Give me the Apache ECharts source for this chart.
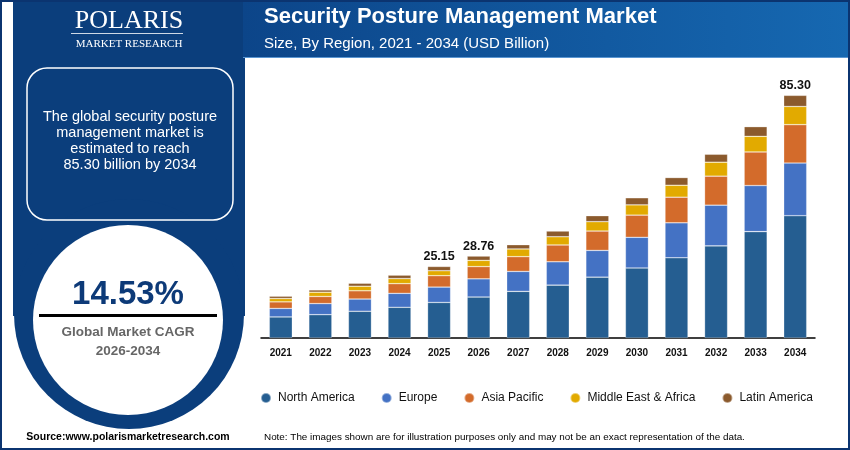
<!DOCTYPE html>
<html lang="en">

<head>
    <meta charset="UTF-8">
    <title>Security Posture Management Market</title>
    <script src="https://cdn.jsdelivr.net/npm/echarts@6/dist/echarts.min.js"></script>
    <style>
        html, body { margin: 0; padding: 0; background: #fff; }
        .chartBox { width: 850px; height: 450px; }
    </style>
</head>

<body>
    <div class="chartBox"></div>
</body>

</html>
<script>
    // data (USD Billion)
    var years = ['2021', '2022', '2023', '2024', '2025', '2026', '2027', '2028', '2029', '2030', '2031', '2032', '2033', '2034'];
    var regions = ['North America', 'Europe', 'Asia Pacific', 'Middle East & Africa', 'Latin America'];
    var northAmerica = [7.4, 8.2, 9.4, 10.8, 12.5, 14.4, 16.4, 18.6, 21.4, 24.6, 28.2, 32.4, 37.4, 43.0];
    var europe = [3.0, 3.9, 4.3, 4.9, 5.4, 6.4, 7.0, 8.2, 9.4, 10.8, 12.3, 14.3, 16.2, 18.5];
    var asiaPacific = [2.3, 2.5, 2.9, 3.4, 4.0, 4.3, 5.2, 5.9, 6.8, 7.8, 9.0, 10.2, 11.8, 13.5];
    var middleEast = [1.2, 1.5, 1.6, 1.8, 1.75, 2.2, 2.7, 2.9, 3.3, 3.6, 4.2, 4.9, 5.5, 6.4];
    var latinAmerica = [0.8, 0.8, 1.05, 1.2, 1.5, 1.5, 1.5, 2.0, 2.1, 2.5, 2.7, 2.8, 3.4, 3.9];
    // totals printed above some bars
    var totalLabels = ['', '', '', '', '25.15', '28.76', '', '', '', '', '', '', '', '85.30'];

    var colors = ['#255e91', '#4472c4', '#d36b2b', '#e2aa00', '#8b5a2d'];
    var seriesData = [northAmerica, europe, asiaPacific, middleEast, latinAmerica];

    var series = [];
    for (var i = 0; i < regions.length; i++) {
        var s = {
            name: regions[i],
            type: 'bar',
            stack: 'total',
            barWidth: 23,
            data: seriesData[i],
            itemStyle: {
                color: colors[i],
                borderColor: 'rgba(255,255,255,0.45)',
                borderWidth: 0.6
            }
        };
        // labels only on the top segment
        if (i == regions.length - 1) {
            s.label = {
                show: true,
                position: 'top',
                distance: 3,
                fontFamily: 'Liberation Sans',
                fontWeight: 'bold',
                fontSize: 12.5,
                color: '#111',
                formatter: function(p) {
                    return totalLabels[p.dataIndex];
                }
            };
        }
        series.push(s);
    }

    var white = '#ffffff';
    var panelBlue = '#0b3e7c';

    var option = {
        backgroundColor: '#fff',
        animation: false,
        grid: { left: 261, right: 35, top: 82, bottom: 112 },
        xAxis: {
            type: 'category',
            data: years,
            axisTick: { show: false },
            axisLine: { lineStyle: { color: '#000', width: 1.5 } },
            axisLabel: {
                margin: 10,
                fontFamily: 'Liberation Sans',
                fontWeight: 'bold',
                fontSize: 10,
                color: '#111'
            }
        },
        yAxis: {
            type: 'value',
            min: 0,
            max: 90,
            show: false
        },
        legend: {
            data: regions,
            left: 260,
            top: 392,
            icon: 'circle',
            itemWidth: 14,
            itemHeight: 10,
            itemGap: 26,
            padding: 0,
            textStyle: { fontFamily: 'Liberation Sans', fontSize: 12, color: '#111' }
        },
        graphic: [
            // left panel with rounded bottom
            { type: 'rect', shape: { x: 13, y: 0, width: 232, height: 316 }, style: { fill: panelBlue }, z: -10 },
            { type: 'circle', shape: { cx: 129, cy: 314, r: 115 }, style: { fill: panelBlue }, z: -10 },
            // header band
            {
                type: 'rect', shape: { x: 243, y: 0, width: 607, height: 58 }, z: -10,
                style: {
                    fill: new echarts.graphic.LinearGradient(0, 0, 1, 0, [
                        { offset: 0, color: '#0c4589' },
                        { offset: 1, color: '#1668b1' }
                    ])
                }
            },
            { type: 'rect', shape: { x: 243, y: 57, width: 607, height: 1 }, style: { fill: '#5a96d2' }, z: -9 },
            // outer frame
            { type: 'rect', shape: { x: 0, y: 0, width: 850, height: 450 }, style: { fill: 'none', stroke: '#0b3470', lineWidth: 4 }, z: 10 },

            // logo
            { type: 'text', x: 129, y: 21, style: { text: 'POLARIS', fill: white, font: '26px "Liberation Serif"', align: 'center', verticalAlign: 'middle' } },
            { type: 'rect', shape: { x: 71, y: 33, width: 112, height: 1 }, style: { fill: 'rgba(255,255,255,0.8)' } },
            { type: 'text', x: 129, y: 44, style: { text: 'MARKET RESEARCH', fill: white, font: '11px "Liberation Serif"', align: 'center', verticalAlign: 'middle' } },

            // text box
            { type: 'rect', shape: { x: 27, y: 68, width: 206, height: 152, r: 20 }, style: { fill: 'none', stroke: white, lineWidth: 1.5 } },
            {
                type: 'text', x: 130, y: 141,
                style: {
                    text: 'The global security posture\nmanagement market is\nestimated to reach\n85.30 billion by 2034',
                    fill: white, font: '14.5px "Liberation Sans"', lineHeight: 16,
                    align: 'center', verticalAlign: 'middle'
                }
            },

            // CAGR circle
            { type: 'circle', shape: { cx: 128, cy: 320, r: 95 }, style: { fill: white } },
            { type: 'text', x: 128, y: 295, style: { text: '14.53%', fill: '#0d3a78', font: 'bold 33px "Liberation Sans"', align: 'center', verticalAlign: 'middle' } },
            { type: 'rect', shape: { x: 39, y: 314, width: 178, height: 3 }, style: { fill: '#000' } },
            { type: 'text', x: 128, y: 332, style: { text: 'Global Market CAGR', fill: '#666666', font: 'bold 13.5px "Liberation Sans"', align: 'center', verticalAlign: 'middle' } },
            { type: 'text', x: 128, y: 351, style: { text: '2026-2034', fill: '#666666', font: 'bold 13.5px "Liberation Sans"', align: 'center', verticalAlign: 'middle' } },

            // source
            { type: 'text', x: 128, y: 437, style: { text: 'Source:www.polarismarketresearch.com', fill: '#000', font: 'bold 10.5px "Liberation Sans"', align: 'center', verticalAlign: 'middle' } },

            // titles
            { type: 'text', x: 264, y: 17, style: { text: 'Security Posture Management Market', fill: white, font: 'bold 22px "Liberation Sans"', align: 'left', verticalAlign: 'middle' } },
            { type: 'text', x: 264, y: 44, style: { text: 'Size, By Region, 2021 - 2034 (USD Billion)', fill: white, font: '15px "Liberation Sans"', align: 'left', verticalAlign: 'middle' } },

            // note
            { type: 'text', x: 264, y: 437, style: { text: 'Note: The images shown are for illustration purposes only and may not be an exact representation of the data.', fill: '#000', font: '9.9px "Liberation Sans"', align: 'left', verticalAlign: 'middle' } }
        ],
        series: series
    };

    var myChart = echarts.init(document.querySelector('.chartBox'));
    myChart.setOption(option);
</script>
